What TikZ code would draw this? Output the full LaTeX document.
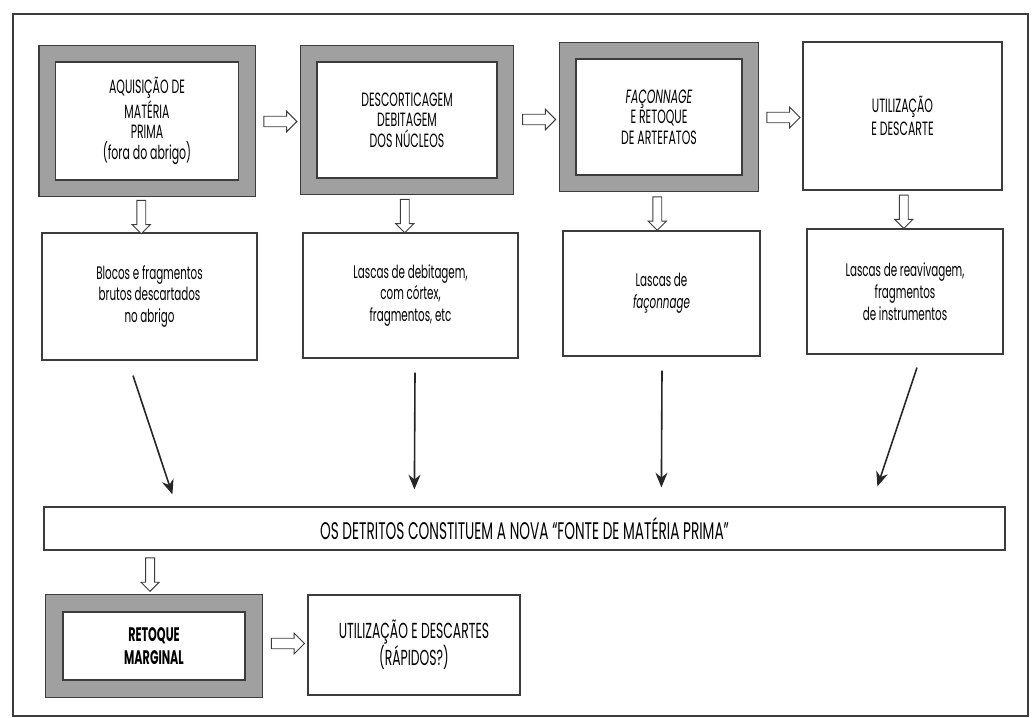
\documentclass[tikz,border=0pt]{standalone}
\usepackage{fontspec}
\setmainfont[FakeStretch=0.57]{Poppins}
\usetikzlibrary{shapes.arrows,arrows.meta,fit,backgrounds,calc}
\definecolor{linec}{RGB}{60,60,60}
\definecolor{band}{RGB}{160,160,160}
\begin{document}
\begin{tikzpicture}[x=0.75pt,y=-0.75pt,
  box/.style={draw=linec, line width=0.9pt, fill=white, align=center, inner sep=0pt,
    font=\fontsize{14.4}{15.5}\selectfont},
  lbox/.style={box, font=\fontsize{13.6}{16.3}\selectfont},
  gframe/.style={draw=linec, line width=0.9pt, fill=band, inner sep=12pt},
  harrow/.style={single arrow, draw=linec, fill=white, line width=0.7pt, inner sep=3.6pt,
    single arrow head extend=3.75pt, minimum height=24.75pt, single arrow tip angle=90},
  varrow/.style={harrow, shape border rotate=270, inner sep=3pt, single arrow head extend=3.4pt,
    minimum height=25pt},
  blk/.style={line width=1.2pt, draw=black!85, -{Stealth[length=11pt,width=9pt]}}
]
\useasboundingbox (0,0) rectangle (1033,718);
\draw[draw=linec, line width=0.9pt] (13,14) rectangle (1028,716);

% top row
\node[box, minimum width=137.25pt, minimum height=88.5pt] (b1) at (147,121)
  {AQUISIÇÃO DE\\MATÉRIA\\PRIMA\\(fora do abrigo)};
\node[box, minimum width=135pt, minimum height=87pt] (b2) at (407,120)
  {DESCORTICAGEM\\DEBITAGEM\\DOS NÚCLEOS};
\node[box, minimum width=124.5pt, minimum height=87pt] (b3) at (659,117)
  {\textit{FAÇONNAGE}\\E RETOQUE\\DE ARTEFATOS};
\begin{scope}[on background layer]
\node[gframe, fit=(b1)] (b1f) {};
\node[gframe, fit=(b2)] (b2f) {};
\node[gframe, fit=(b3)] (b3f) {};
\end{scope}
\node[box, minimum width=149.25pt, minimum height=111pt, font=\fontsize{14.4}{17.5}\selectfont] (b4) at (902.5,116)
  {UTILIZAÇÃO\\E DESCARTE};

% second row
\node[lbox, minimum width=161.25pt, minimum height=95.25pt] (A) at (149.5,296.5)
  {Blocos e fragmentos\\brutos descartados\\no abrigo};
\node[lbox, minimum width=161.25pt, minimum height=93.75pt] (B) at (410.5,295.5)
  {Lascas de debitagem,\\com córtex,\\fragmentos, etc};
\node[lbox, minimum width=147.75pt, minimum height=93.75pt] (C) at (661.5,293.5)
  {Lascas de\\\textit{façonnage}};
\node[lbox, minimum width=147pt, minimum height=93.75pt] (D) at (905,291.5)
  {Lascas de reavivagem,\\fragmentos\\de instrumentos};

% long box
\node[box, minimum width=720.75pt, minimum height=32.25pt, font=\fontsize{18}{20}\selectfont] (L) at (524.5,528.5)
  {OS DETRITOS CONSTITUEM A NOVA “FONTE DE MATÉRIA PRIMA”};

% bottom row
\node[box, minimum width=136.5pt, minimum height=51pt, font=\fontsize{14.7}{17}\bfseries\selectfont] (R) at (154,646)
  {RETOQUE\\MARGINAL};
\begin{scope}[on background layer]
\node[gframe, fit=(R), inner xsep=12.75pt, inner ysep=12.5pt] (Rf) {};
\end{scope}
\node[box, minimum width=159pt, minimum height=75pt, font=\fontsize{16.3}{20}\selectfont] (U) at (414,645)
  {UTILIZAÇÃO E DESCARTES\\(RÁPIDOS?)};

% hollow arrows
\node[harrow] (h1) at ($(b1f.east)!0.5!(b2f.west)+(0,1)$) {};
\node[harrow] (h2) at ($(b2f.east)!0.5!(b3f.west)+(0,1)$) {};
\node[harrow] (h3) at ($(b3f.east)!0.5!(b4.west)+(0,1)$) {};
\node[harrow] (h4) at ($(Rf.east)!0.5!(U.west)+(0,-2)$) {};
\node[varrow] (d1) at ($(b1f.south)!0.5!(A.north)+(-7,0)$) {};
\node[varrow] (d2) at ($(b2f.south)!0.5!(B.north)+(-4,0)$) {};
\node[varrow] (d3) at ($(b3f.south)!0.5!(C.north)+(-3,0)$) {};
\node[varrow] (d4) at ($(b4.south)!0.5!(D.north)+(0,0)$) {};
\node[varrow] (d5) at ($(L.south west)!0.5!(Rf.north west)+(106,0)$) {};

% black arrows
\draw[blk] ($(A.south)+(-16.5,15)$) -- ($(L.north west)+(129,-12)$);
\draw[blk] ($(B.south)+(4.5,14)$) -- ($(L.north west)+(371,-17)$);
\draw[blk] ($(C.south)+(0.5,14)$) -- ($(L.north west)+(618,-19)$);
\draw[blk] ($(D.south)+(12,13)$) -- ($(L.north west)+(834,-20)$);
\end{tikzpicture}
\end{document}
